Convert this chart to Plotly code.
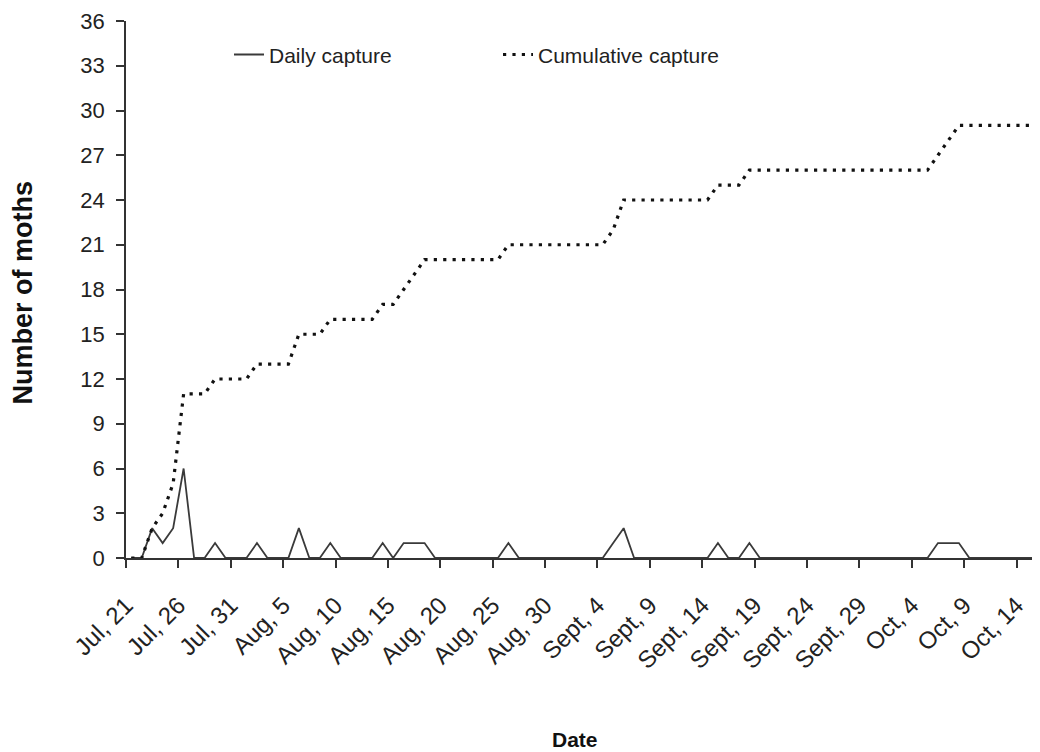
import pandas as pd
import plotly.graph_objects as go

# ---- data ----
start_date = "2009-07-21"
daily_capture = [0, 0, 2, 1, 2, 6, 0, 0, 1, 0,
                 0, 0, 1, 0, 0, 0, 2, 0, 0, 1,
                 0, 0, 0, 0, 1, 0, 1, 1, 1, 0,
                 0, 0, 0, 0, 0, 0, 1, 0, 0, 0,
                 0, 0, 0, 0, 0, 0, 1, 2, 0, 0,
                 0, 0, 0, 0, 0, 0, 1, 0, 0, 1,
                 0, 0, 0, 0, 0, 0, 0, 0, 0, 0,
                 0, 0, 0, 0, 0, 0, 0, 1, 1, 1,
                 0, 0, 0, 0, 0, 0, 0, 0]
cumulative_capture = [0, 0, 2, 3, 5, 11, 11, 11, 12, 12,
                      12, 12, 13, 13, 13, 13, 15, 15, 15, 16,
                      16, 16, 16, 16, 17, 17, 18, 19, 20, 20,
                      20, 20, 20, 20, 20, 20, 21, 21, 21, 21,
                      21, 21, 21, 21, 21, 21, 22, 24, 24, 24,
                      24, 24, 24, 24, 24, 24, 25, 25, 25, 26,
                      26, 26, 26, 26, 26, 26, 26, 26, 26, 26,
                      26, 26, 26, 26, 26, 26, 26, 27, 28, 29,
                      29, 29, 29, 29, 29, 29, 29, 29]
tick_labels = ["Jul, 21", "Jul, 26", "Jul, 31", "Aug, 5", "Aug, 10", "Aug, 15",
               "Aug, 20", "Aug, 25", "Aug, 30", "Sept, 4", "Sept, 9", "Sept, 14",
               "Sept, 19", "Sept, 24", "Sept, 29", "Oct, 4", "Oct, 9", "Oct, 14"]
y_ticks = [0, 3, 6, 9, 12, 15, 18, 21, 24, 27, 30, 33, 36]

dates = pd.date_range(start_date, periods=len(daily_capture), freq="D")
half = pd.Timedelta(hours=12)
tick_vals = [(dates[0] + pd.Timedelta(days=5 * i) - half).strftime("%Y-%m-%d %H:%M")
             for i in range(len(tick_labels))]
x_vals = [d.strftime("%Y-%m-%d") for d in dates]
x_range = [(dates[0] - half).strftime("%Y-%m-%d %H:%M"),
           (dates[0] + pd.Timedelta(days=86.74)).strftime("%Y-%m-%d %H:%M")]

FONT = "Liberation Sans, Arial, sans-serif"

fig = go.Figure()
fig.add_trace(go.Scatter(
    x=x_vals, y=daily_capture, mode="lines", name="Daily capture",
    line=dict(color="#3a3a3a", width=1.8),
))
fig.add_trace(go.Scatter(
    x=x_vals, y=cumulative_capture, mode="lines", name="Cumulative capture",
    line=dict(color="#111111", width=3.2, dash="3.2px,6.2px"),
))

fig.update_layout(
    width=1032, height=744,
    margin=dict(l=118, r=0, t=13, b=194),
    paper_bgcolor="white", plot_bgcolor="white",
    font=dict(family=FONT, size=21, color="#222222"),
    showlegend=True,
    legend=dict(orientation="h", x=0.1127, y=0.937, xanchor="left", yanchor="middle",
                font=dict(family=FONT, size=21, color="#222222"),
                bgcolor="rgba(0,0,0,0)", entrywidth=224, entrywidthmode="pixels"),
    xaxis=dict(type="date", range=x_range, tickmode="array",
               tickvals=tick_vals, ticktext=tick_labels, tickangle=-45,
               ticks="outside", ticklen=8, tickcolor="#333333", tickwidth=1.5,
               ticklabelstandoff=14, ticklabelshift=0,
               showline=True, linecolor="#333333", linewidth=1.5,
               showgrid=False, zeroline=False,
               tickfont=dict(family=FONT, size=24, color="#222222")),
    yaxis=dict(range=[0, 36], tickmode="array", tickvals=y_ticks,
               ticks="outside", ticklen=8, tickcolor="#333333", tickwidth=1.5,
               ticklabelstandoff=7,
               showline=True, linecolor="#333333", linewidth=1.5,
               showgrid=False, zeroline=False,
               tickfont=dict(family=FONT, size=22, color="#222222")),
    annotations=[
        dict(text="<b>Number of moths</b>", xref="paper", yref="paper",
             x=0, y=0.5, xshift=-104, yshift=-3, textangle=-90, showarrow=False,
             xanchor="center", yanchor="middle",
             font=dict(family=FONT, size=27, color="#111111")),
        dict(text="<b>Date</b>", xref="paper", yref="paper",
             x=0.491, y=0, yshift=-181, showarrow=False,
             xanchor="center", yanchor="middle",
             font=dict(family=FONT, size=21, color="#111111")),
    ],
)

fig.write_html("out.html")
